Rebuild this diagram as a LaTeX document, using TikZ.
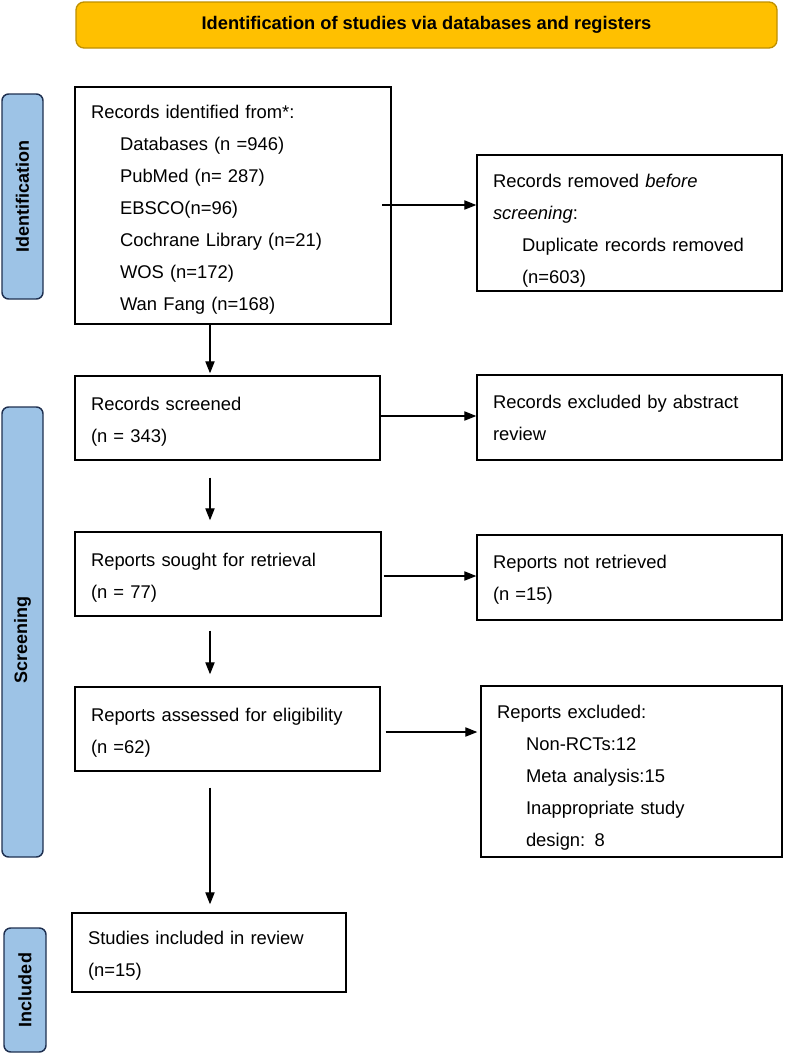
\documentclass[tikz,border=0pt]{standalone}
\usepackage{fontspec}
\setmainfont{Liberation Sans}
\usetikzlibrary{arrows.meta}
\definecolor{hdrfill}{HTML}{FFC000}
\definecolor{hdrline}{HTML}{BF9000}
\definecolor{sidefill}{HTML}{9DC3E6}
\definecolor{sideline}{HTML}{1F3050}
\tikzset{
  box/.style={draw=black, line width=1.1pt, align=left, inner xsep=12pt, inner ysep=0pt,
    font=\fontsize{13.8}{24}\selectfont},
  lift/.style={execute at begin node={\rule{0pt}{#1}}},
  sidebar/.style={draw=sideline, fill=sidefill, line width=1.1pt, rounded corners=5pt,
    minimum width=30.75pt, inner sep=0pt},
  sidetext/.style={rotate=90, font=\bfseries\fontsize{13.5}{15}\selectfont},
  header/.style={draw=hdrline, fill=hdrfill, line width=1pt, rounded corners=6pt,
    minimum width=525.75pt, minimum height=34.5pt, font=\bfseries\fontsize{13.7}{16}\selectfont},
  arr/.style={-{Triangle[length=9pt,width=7pt]}, line width=0.8pt}
}
\newcommand{\ind}{\hspace*{21.75pt}}
\begin{document}
\begin{tikzpicture}[x=0.75pt,y=-0.75pt]
\path[use as bounding box] (0,0) rectangle (787,1053);

% header
\node[header] (hdr) at (426.5,25) {Identification of studies via databases and registers};

% side bars
\node[sidebar, minimum height=153.75pt] (sid) at (22.5,196.5) {};
\node[sidetext] (sidt) at (sid.center) {Identification};
\node[sidebar, minimum height=337.5pt] (ssc) at (22.5,632) {};
\node[sidetext] (ssct) at (22.5,640) {Screening};
\node[sidebar, minimum height=93pt, minimum width=31.5pt] (sin) at (25,990) {};
\node[sidetext] (sint) at (sin.center) {Included};

% boxes
\node[box, lift=16pt, text width=213pt, minimum height=177.75pt] (b1) at (233,205.5) {Records identified from*:\\
\ind Databases (n =946)\\
\ind PubMed (n= 287)\\
\ind EBSCO(n=96)\\
\ind Cochrane Library (n=21)\\
\ind WOS (n=172)\\
\ind Wan Fang (n=168)};

\node[box, lift=22pt, text width=204.75pt, minimum height=102pt] (rem) at (629.5,223) {Records removed \textit{before}\\
\textit{screening}:\\
\ind Duplicate records removed\\
\ind (n=603)};

\node[box, lift=16pt, text width=204.75pt, minimum height=63pt] (scr) at (227.5,418) {Records screened\\(n = 343)};
\node[box, text width=204.75pt, minimum height=63.75pt] (exa) at (629.5,417.5) {Records excluded by abstract\\review};

\node[box, lift=15pt, text width=205.5pt, minimum height=63pt] (sou) at (228,574) {Reports sought for retrieval\\(n = 77)};
\node[box, lift=13pt, text width=204.75pt, minimum height=63.75pt] (nr) at (629.5,577.5) {Reports not retrieved\\(n =15)};

\node[box, lift=15pt, text width=204.75pt, minimum height=63pt] (ass) at (227.5,729) {Reports assessed for eligibility\\(n =62)};
\node[box, lift=19pt, text width=201.75pt, minimum height=128.25pt] (exc) at (631.5,771.5) {Reports excluded:\\
\ind Non-RCTs:12\\
\ind Meta analysis:15\\
\ind Inappropriate study\\
\ind design: 8};

\node[box, lift=15pt, text width=181.5pt, minimum height=59.25pt] (inc) at (209,952.5) {Studies included in review\\(n=15)};

% connectors
\coordinate (colx) at (210,0);
\coordinate (a1s) at (382,205);
\draw[arr] (a1s) -- (a1s -| rem.west);
\draw[arr] (b1.south -| colx) -- ([yshift=1.5pt]scr.north -| colx);
\draw[arr] (scr.east |- 0,416) -- (exa.west |- 0,416);
\draw[arr] ([yshift=-12.75pt]scr.south -| colx) -- ([yshift=8.25pt]sou.north -| colx);
\draw[arr] ([xshift=1.5pt]sou.east |- 0,576) -- (nr.west |- 0,576);
\draw[arr] ([yshift=-10.5pt]sou.south -| colx) -- ([yshift=9pt]ass.north -| colx);
\draw[arr] ([xshift=3.75pt]ass.east |- 0,732) -- ([xshift=-2.25pt]exc.west |- 0,732);
\draw[arr] ([yshift=-12pt]ass.south -| colx) -- ([yshift=6pt]inc.north -| colx);
\end{tikzpicture}
\end{document}
